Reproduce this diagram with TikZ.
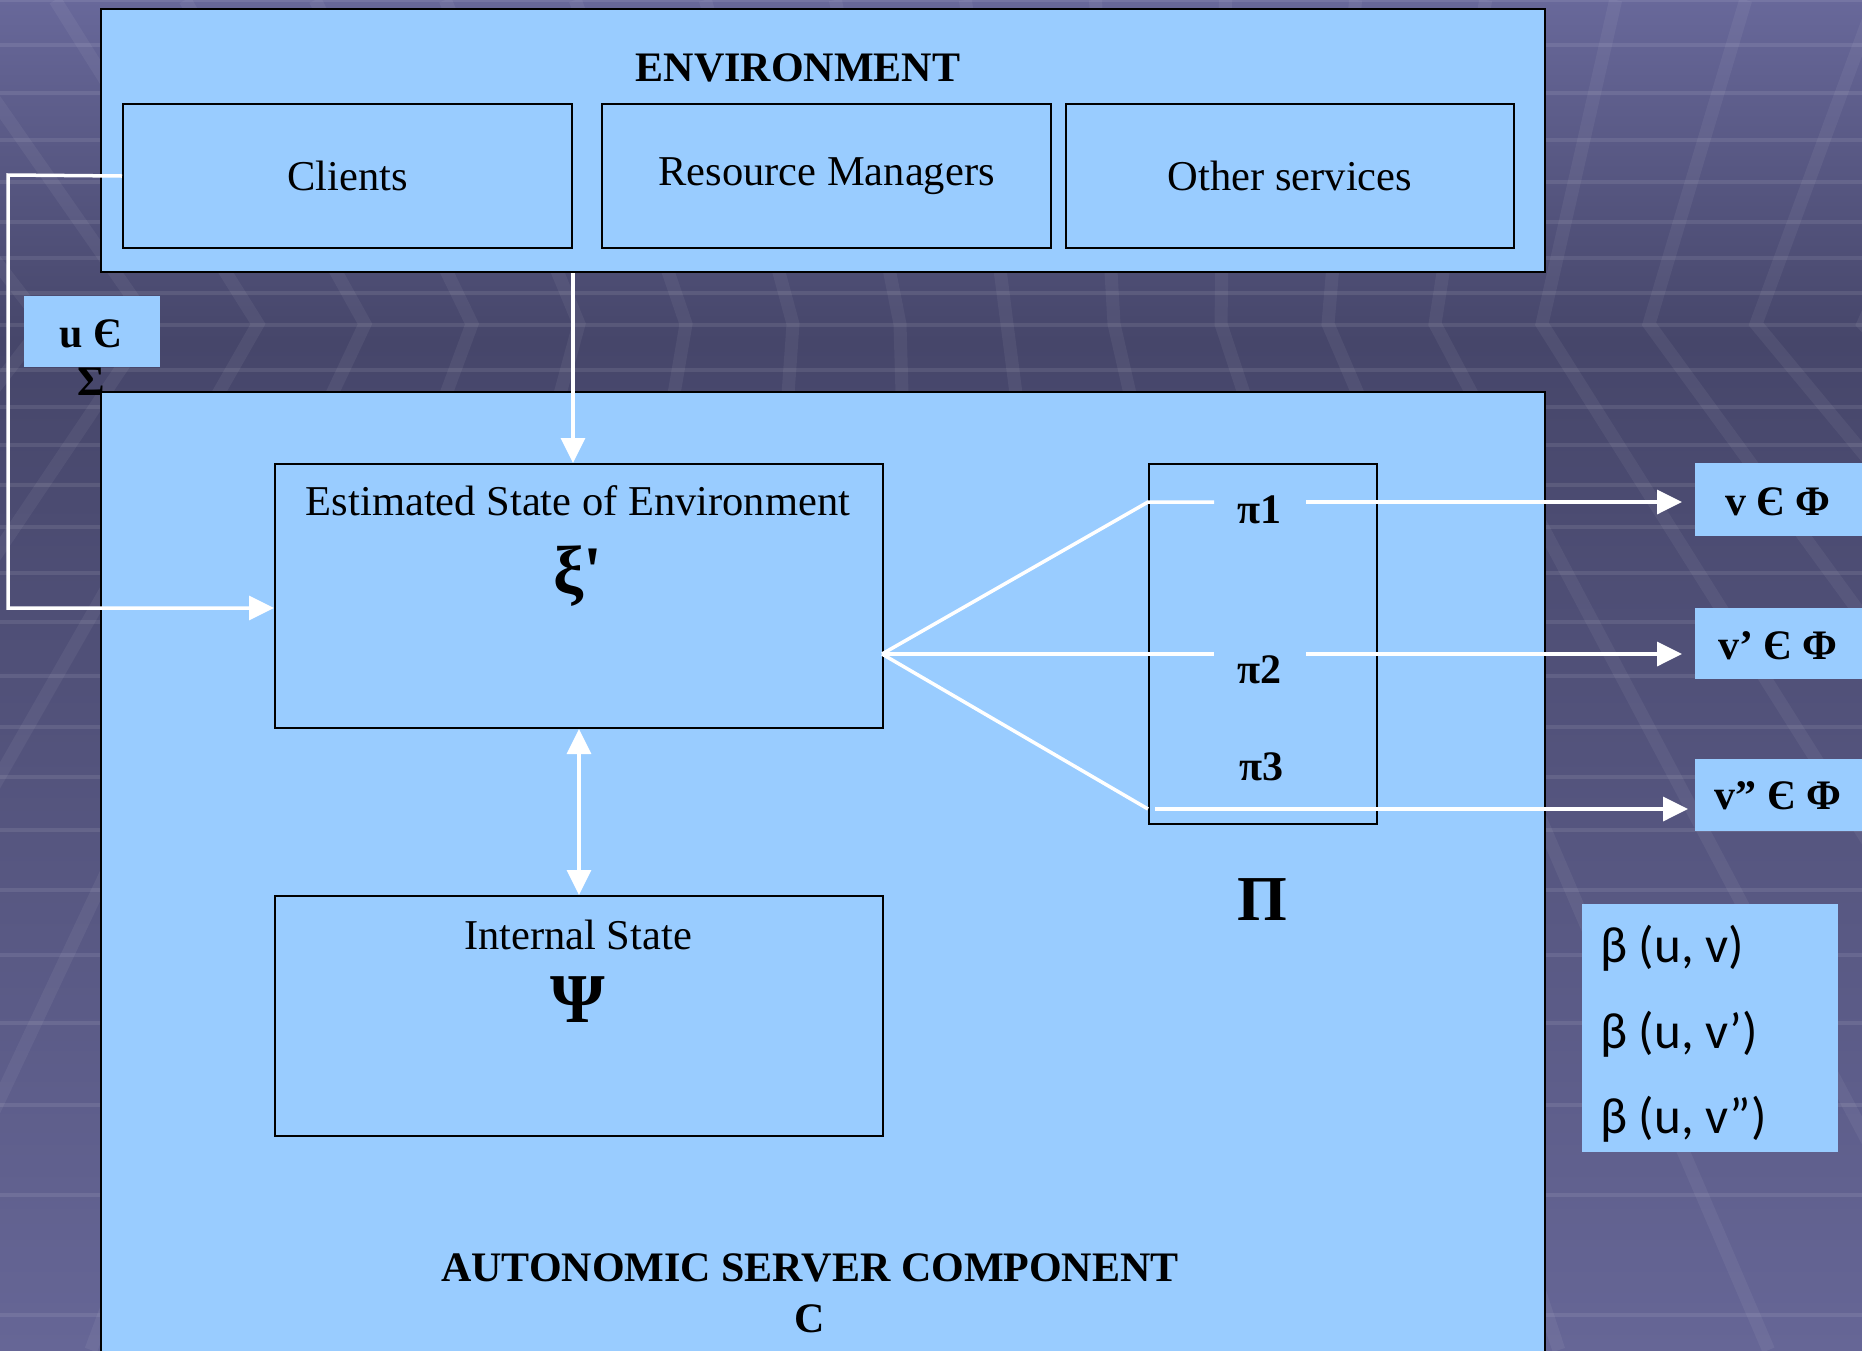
\documentclass[tikz,border=0pt]{standalone}
\usepackage{fontspec}
\setmainfont{Liberation Serif}
\newfontfamily\rawserif[Ligatures=TeXOff]{Liberation Serif}
\newfontfamily\calib{Carlito}
\usetikzlibrary{arrows.meta,calc}
\definecolor{panelblue}{RGB}{153,204,255}
\definecolor{bgtop}{RGB}{104,104,154}
\definecolor{bgmid}{RGB}{70,70,106}
\definecolor{bgbot}{RGB}{102,102,150}
\begin{document}
\begin{tikzpicture}[x=1pt,y=-1pt,
  panel/.style={draw=black, line width=2pt, fill=panelblue, rectangle, inner sep=0pt, anchor=north west},
  tag/.style={fill=panelblue, rectangle, inner sep=0pt, anchor=north west},
  txt/.style={font=\fontsize{42.5}{50}\selectfont, inner sep=0pt},
  btxt/.style={font=\fontsize{42}{50}\selectfont\bfseries, inner sep=0pt},
  btext/.style={font=\calib\fontsize{51}{58}\selectfont, inner sep=0pt, anchor=west},
  wire/.style={draw=white, line width=3.5pt},
  arr/.style={wire, -{Triangle[length=25pt,width=24pt]}},
  darr/.style={wire, {Triangle[length=25pt,width=24pt]}-{Triangle[length=25pt,width=24pt]}},
  hline/.style={draw=white, draw opacity=0.09, line width=4.5pt},
  band/.style={draw=white, draw opacity=0.055, line width=13pt},
]
\useasboundingbox (0,0) rectangle (1862,1350);
% ---------- background ----------
\begin{scope}
  \clip (0,0) rectangle (1862,1350);
  \shade[top color=bgtop, bottom color=bgmid] (0,0) rectangle (1862,340);
  \shade[top color=bgmid, bottom color=bgbot] (0,340) rectangle (1862,1350);
  \foreach \yy in {0,45,93,140,182,222,258,293,325,370,407,445,485,527,573,622,676,727,777,830,890,955,1023,1105,1195,1315}
    \draw[hline] (0,\yy) -- (1862,\yy);
  \foreach \k in {-14,...,18} {
    \pgfmathsetmacro{\xh}{258+107*\k}
    \pgfmathsetmacro{\xa}{\xh+(\xh-1200)/1500*323}
    \pgfmathsetmacro{\xb}{\xh+(\xh-869)/1070*1027}
    \draw[band] (\xa,0) -- (\xh,324) -- (\xb,1350);
  }
\end{scope}
% ---------- environment ----------
\node[panel, minimum width=1444pt, minimum height=263pt] (env) at (100,8) {};
\node[btxt] (envt) at (798,68) {ENVIRONMENT};
\node[panel, minimum width=449pt, minimum height=144pt, font=\fontsize{42.5}{50}\selectfont] (cli) at (122,103) {Clients};
\node[panel, minimum width=449pt, minimum height=144pt, font=\fontsize{42.5}{50}\selectfont] (rm) at (601,103) {Resource Managers};
\node[panel, minimum width=448pt, minimum height=144pt, font=\fontsize{42.5}{50}\selectfont] (oth) at (1065,103) {Other services};
% ---------- input label ----------
\node[tag, minimum width=136pt, minimum height=71pt] (ubox) at (24,296) {};
\node[btxt] (ut) at (91,334) {u Є};
\node[btxt] (sig) at (91,382) {Σ};
% ---------- component ----------
\node[panel, minimum width=1444pt, minimum height=990pt] (comp) at (100,391) {};
\node[btxt] (compt) at (810,1268) {AUTONOMIC SERVER COMPONENT};
\node[btxt] (compc) at (810,1319) {C};
\node[panel, minimum width=608pt, minimum height=264pt] (est) at (274,463) {};
\node[txt] (estt) at (578,501) {Estimated State of Environment};
\node[font=\rawserif\fontsize{68}{68}\selectfont\bfseries, inner sep=0pt] (xi) at (578,576) {ξ'};
\node[panel, minimum width=608pt, minimum height=240pt] (int) at (274,895) {};
\node[txt] (intt) at (578,935) {Internal State};
\node[font=\fontsize{70}{70}\selectfont\bfseries, inner sep=0pt] (psi) at (578,1000) {Ψ};
\node[panel, minimum width=228pt, minimum height=360pt] (pib) at (1148,463) {};
\node[btxt] (p1) at (1259,510) {π1};
\node[btxt] (p2) at (1259,670) {π2};
\node[btxt] (p3) at (1261,767) {π3};
\node[font=\fontsize{64}{64}\selectfont\bfseries, inner sep=0pt] (bigpi) at (1262,900) {Π};
% ---------- outputs ----------
\node[tag, minimum width=180pt, minimum height=73pt] (v1) at (1695,463) {};
\node[btxt] (v1t) at (1778,502) {v Є Φ};
\node[tag, minimum width=180pt, minimum height=71pt] (v2) at (1695,608) {};
\node[btxt] (v2t) at (1778,646) {v’ Є Φ};
\node[tag, minimum width=180pt, minimum height=72pt] (v3) at (1695,759) {};
\node[btxt] (v3t) at (1778,796) {v” Є Φ};
\node[tag, minimum width=256pt, minimum height=248pt] (beta) at (1582,904) {};
\node[btext] (b1) at (1600,948) {β (u, v)};
\node[btext] (b2) at (1600,1034) {β (u, v’)};
\node[btext] (b3) at (1600,1119) {β (u, v”)};
% ---------- connectors ----------
\coordinate (estin) at (274,608);
\draw[arr] (cli.west) -- (8,175) -- (8,608) -- (estin);
\draw[arr] (cli.south east |- env.south) -- (cli.south east |- est.north);
\draw[darr] (est.south) -- (int.north);
\coordinate (fan) at (882,654);
\coordinate (k1) at (1148,502);
\coordinate (e1) at (1214,502);
\coordinate (s1) at (1306,502);
\coordinate (t1) at (1682,502);
\coordinate (e2) at (1214,654);
\coordinate (s2) at (1306,654);
\coordinate (t2) at (1682,654);
\coordinate (k3) at (1148,809);
\coordinate (s3) at (1155,809);
\coordinate (t3) at (1688,809);
\draw[wire, line join=round] (fan) -- (k1) -- (e1);
\draw[arr] (s1) -- (t1);
\draw[wire] (fan) -- (e2);
\draw[arr] (s2) -- (t2);
\draw[wire] (fan) -- (k3);
\draw[arr] (s3) -- (t3);
\end{tikzpicture}
\end{document}
